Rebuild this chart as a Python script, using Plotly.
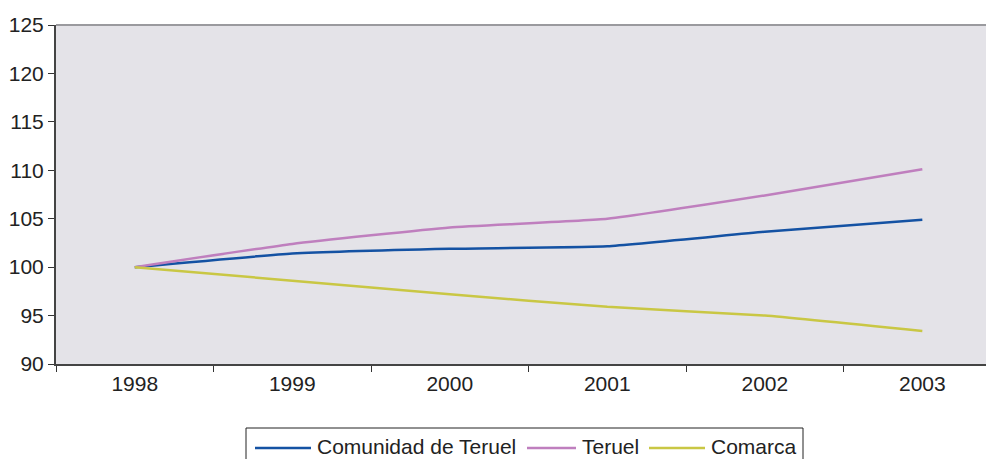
import plotly.graph_objects as go

years = ["1998", "1999", "2000", "2001", "2002", "2003"]
comunidad = [100, 101.4, 101.9, 102.15, 103.65, 104.9]
teruel = [100, 102.4, 104.1, 105.0, 107.4, 110.1]
comarca = [100, 98.6, 97.2, 95.9, 95.0, 93.4]

series = [
    ("Comunidad de Teruel", comunidad, "#1452a3"),
    ("Teruel", teruel, "#bf7fbe"),
    ("Comarca", comarca, "#c9c744"),
]

OFF = 8  # page body margin
W, H = 994 - OFF, 459 - OFF
ML, MT = 56 - OFF, 25 - OFF
MB = H - (364 - OFF)
PW, PH = W - ML, H - MT - MB

def px(x):
    return (x - OFF - ML) / PW

def py(y):
    return (H - MB - (y - OFF)) / PH

fig = go.Figure()
for name, vals, col in series:
    fig.add_trace(go.Scatter(
        x=years, y=vals, name=name, mode="lines",
        line=dict(color=col, width=2.5, shape="spline", smoothing=0.4),
        showlegend=False,
    ))

font = dict(family="Liberation Sans, Arial, sans-serif", size=21, color="#222222")

shapes = [dict(type="line", xref="paper", yref="paper", x0=0, x1=1, y0=1, y1=1,
               line=dict(color="#9a9a9e", width=2))]
# legend box
shapes.append(dict(type="rect", xref="paper", yref="paper",
                   x0=px(246), x1=px(803), y0=py(428), y1=py(475),
                   line=dict(color="#222222", width=1), fillcolor="white", layer="above"))
legend_items = [(255, 311, 315), (527, 576, 580), (649, 705, 709)]
annotations = []
for (x0, x1, xt), (name, _, col) in zip(legend_items, series):
    shapes.append(dict(type="line", xref="paper", yref="paper",
                       x0=px(x0), x1=px(x1), y0=py(448), y1=py(448),
                       line=dict(color=col, width=2.5)))
    annotations.append(dict(text=name, xref="paper", yref="paper",
                            x=px(xt), y=py(446), xanchor="left", yanchor="middle",
                            showarrow=False, font=font))

fig.update_layout(
    width=W, height=H,
    margin=dict(l=ML, r=0, t=MT, b=MB),
    paper_bgcolor="white",
    plot_bgcolor="#e4e3e8",
    font=font,
    showlegend=False,
    xaxis=dict(
        type="category", range=[-0.5, 5.455], automargin=False,
        tickson="boundaries", ticks="outside", ticklen=6, tickwidth=1,
        tickcolor="#333333", showgrid=False, zeroline=False,
        showline=True, linecolor="#444444", linewidth=2,
        tickfont=font,
    ),
    yaxis=dict(
        range=[90, 125], tickvals=[90, 95, 100, 105, 110, 115, 120, 125],
        automargin=False,
        ticks="outside", ticklen=6, tickwidth=1, tickcolor="#333333",
        showgrid=False, zeroline=False,
        showline=True, linecolor="#444444", linewidth=2,
        tickfont=font,
    ),
    shapes=shapes,
    annotations=annotations,
)

fig.write_html("out.html")
